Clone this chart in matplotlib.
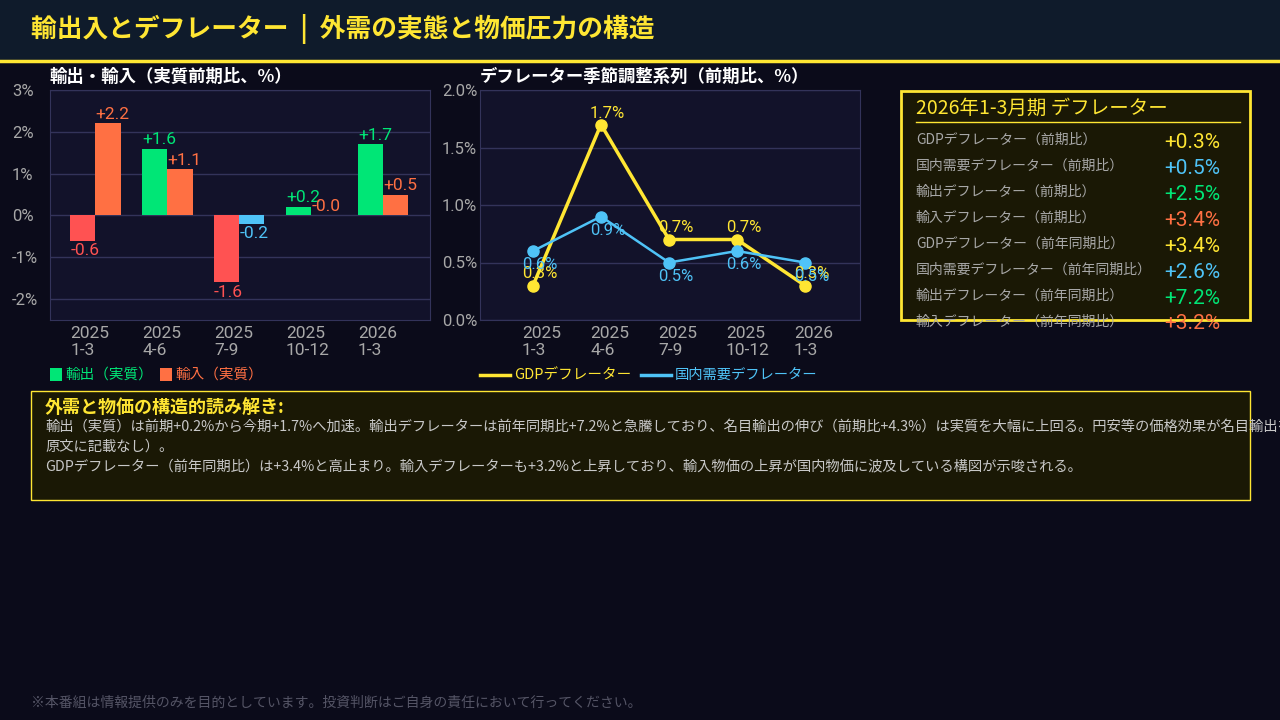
import matplotlib
matplotlib.use('Agg')
import matplotlib.pyplot as plt
from matplotlib.patches import Rectangle
from matplotlib.lines import Line2D
import numpy as np

plt.rcParams['font.family'] = ['Noto Sans CJK JP', 'DejaVu Sans']
NUM_FONT = ['Roboto', 'Noto Sans CJK JP', 'DejaVu Sans']

W, H = 1280, 720

# データ
quarters = ['2025\n1-3', '2025\n4-6', '2025\n7-9', '2025\n10-12', '2026\n1-3']
exports_real = [-0.6, 1.6, -1.6, 0.2, 1.7]
imports_real = [2.2, 1.1, -0.2, -0.0, 0.5]
gdp_deflator = [0.3, 1.7, 0.7, 0.7, 0.3]
domestic_deflator = [0.6, 0.9, 0.5, 0.6, 0.5]

box_labels = [
    'GDPデフレーター（前期比）',
    '国内需要デフレーター（前期比）',
    '輸出デフレーター（前期比）',
    '輸入デフレーター（前期比）',
    'GDPデフレーター（前年同期比）',
    '国内需要デフレーター（前年同期比）',
    '輸出デフレーター（前年同期比）',
    '輸入デフレーター（前年同期比）',
]
box_values = [0.3, 0.5, 2.5, 3.4, 3.4, 2.6, 7.2, 3.2]

# 色
BG = '#0b0b1a'
HEADER = '#0f1b2b'
YELLOW = '#ffe633'
GREEN = '#00e676'
RED = '#ff5252'
ORANGE = '#ff7043'
BLUE = '#4fc3f7'
GRAY = '#a8a8a8'
GRID = '#33335a'
AXBG = '#12122a'
BOXBG = '#1a1805'
box_colors = [YELLOW, BLUE, GREEN, ORANGE] * 2


def fx(x):
    return x / W


def fy(y):
    return 1 - y / H


def rect(x0, y0, x1, y1):
    return [fx(x0), fy(y1), (x1 - x0) / W, (y1 - y0) / H]


fig = plt.figure(figsize=(12.8, 7.2), dpi=100, facecolor=BG)

# ヘッダー
fig.add_artist(Rectangle((0, fy(60)), 1, 60 / H, transform=fig.transFigure,
                         facecolor=HEADER, edgecolor='none', zorder=0))
fig.add_artist(Line2D([0, 1], [fy(61), fy(61)], transform=fig.transFigure,
                      color=YELLOW, lw=2.5))
fig.text(fx(31), fy(29), '輸出入とデフレーター  |  外需の実態と物価圧力の構造',
         color=YELLOW, fontsize=18.5, fontweight='bold', va='center', ha='left')


def style_axes(ax):
    ax.set_facecolor(AXBG)
    for s in ax.spines.values():
        s.set_color(GRID)
    ax.tick_params(length=0, colors=GRAY, labelsize=12)
    ax.tick_params(axis='y', pad=27.5)
    ax.grid(axis='y', color=GRID, lw=1)
    ax.set_axisbelow(True)
    for t in ax.get_yticklabels():
        t.set_horizontalalignment('left')


# 左: 輸出・輸入
ax1 = fig.add_axes(rect(50, 90, 430, 320))
x = np.arange(len(quarters))
bw = 0.35
exp_colors = [GREEN if v >= 0 else RED for v in exports_real]
imp_colors = [ORANGE if v >= 0 else BLUE for v in imports_real]
ax1.bar(x - bw / 2, exports_real, bw, color=exp_colors, zorder=2)
ax1.bar(x + bw / 2, imports_real, bw, color=imp_colors, zorder=2)
for xs, vals, cols in [(x - bw, exports_real, exp_colors),
                       (x, imports_real, imp_colors)]:
    for xi, v, c in zip(xs, vals, cols):
        lab = f'+{v:.1f}' if v > 0 else f'{v:.1f}'
        if v >= 0:
            ax1.text(xi, v + 0.22, lab, color=c, fontsize=12.5, ha='left',
                     va='center', family=NUM_FONT)
        else:
            ax1.text(xi, v - 0.24, lab, color=c, fontsize=12.5, ha='left',
                     va='center', family=NUM_FONT)
ax1.set_xlim(-0.63, 4.65)
ax1.set_ylim(-2.5, 3)
ax1.set_yticks([-2, -1, 0, 1, 2, 3])
ax1.set_yticklabels([f'{v}%' for v in [-2, -1, 0, 1, 2, 3]], family=NUM_FONT)
ax1.set_xticks(x - bw)
ax1.set_xticklabels(quarters, ha='left', multialignment='left', family=NUM_FONT)
style_axes(ax1)
ax1.tick_params(axis='x', pad=4, labelsize=12.5)
fig.text(fx(50), fy(77), '輸出・輸入（実質前期比、%）', color='white',
         fontsize=12.5, fontweight='bold', va='center')

# 凡例（左）
fig.add_artist(Rectangle((fx(50), fy(381)), 12 / W, 13 / H, transform=fig.transFigure,
                         facecolor=GREEN, edgecolor='none'))
fig.text(fx(65), fy(375), '輸出（実質）', color=GREEN, fontsize=10.5, va='center')
fig.add_artist(Rectangle((fx(160), fy(381)), 12 / W, 13 / H, transform=fig.transFigure,
                         facecolor=ORANGE, edgecolor='none'))
fig.text(fx(175), fy(375), '輸入（実質）', color=ORANGE, fontsize=10.5, va='center')

# 中央: デフレーター
ax2 = fig.add_axes(rect(480, 90, 860, 320))
ax2.plot(x, gdp_deflator, color=YELLOW, lw=2.5, marker='o', ms=8, zorder=3)
ax2.plot(x, domestic_deflator, color=BLUE, lw=1.8, marker='o', ms=8, zorder=3)
off = 11 / 68
for xi, v in zip(x, gdp_deflator):
    ax2.text(xi - off, v + 0.1, f'{v:.1f}%', color=YELLOW, fontsize=12,
             ha='left', va='center', zorder=4, family=NUM_FONT)
for xi, v in zip(x, domestic_deflator):
    ax2.text(xi - off, v - 0.12, f'{v:.1f}%', color=BLUE, fontsize=12,
             ha='left', va='center', zorder=4, family=NUM_FONT)
ax2.set_xlim(-0.78, 4.81)
ax2.set_ylim(0, 2.0)
ax2.set_yticks([0, 0.5, 1.0, 1.5, 2.0])
ax2.set_yticklabels([f'{v:.1f}%' for v in [0, 0.5, 1.0, 1.5, 2.0]], family=NUM_FONT)
ax2.set_xticks(x - off)
ax2.set_xticklabels(quarters, ha='left', multialignment='left', family=NUM_FONT)
style_axes(ax2)
ax2.tick_params(axis='x', pad=4, labelsize=12.5)
fig.text(fx(480), fy(77), 'デフレーター季節調整系列（前期比、%）', color='white',
         fontsize=12.5, fontweight='bold', va='center')

# 凡例（中央）
fig.add_artist(Line2D([fx(480), fx(510)], [fy(375), fy(375)], transform=fig.transFigure,
                      color=YELLOW, lw=2.5))
fig.text(fx(514), fy(375), 'GDPデフレーター', color=YELLOW, fontsize=10.5, va='center')
fig.add_artist(Line2D([fx(641), fx(671)], [fy(375), fy(375)], transform=fig.transFigure,
                      color=BLUE, lw=2.5))
fig.text(fx(675), fy(375), '国内需要デフレーター', color=BLUE, fontsize=10.3, va='center')

# 右: サマリーボックス
fig.add_artist(Rectangle((fx(901), fy(320)), 349 / W, 229 / H, transform=fig.transFigure,
                         facecolor=BOXBG, edgecolor=YELLOW, lw=2, zorder=1))
fig.text(fx(916), fy(108), '2026年1-3月期 デフレーター', color=YELLOW,
         fontsize=14, va='center', zorder=2)
fig.add_artist(Line2D([fx(916), fx(1240)], [fy(122), fy(122)], transform=fig.transFigure,
                      color=YELLOW, lw=1, zorder=2))
for i, (lab, v, c) in enumerate(zip(box_labels, box_values, box_colors)):
    y = 140 + 26 * i
    fig.text(fx(916), fy(y), lab, color=GRAY, fontsize=10, va='center', zorder=2)
    fig.text(fx(1220), fy(y + 2), f'+{v:.1f}%', color=c, fontsize=15,
             va='center', ha='right', zorder=2, family=NUM_FONT)

# 下: 解説ボックス
fig.add_artist(Rectangle((fx(31), fy(500)), 1219 / W, 109 / H, transform=fig.transFigure,
                         facecolor=BOXBG, edgecolor=YELLOW, lw=1, zorder=1))
fig.text(fx(45), fy(408), '外需と物価の構造的読み解き:', color=YELLOW,
         fontsize=13, fontweight='bold', va='center', zorder=2)
body = [
    '輸出（実質）は前期+0.2%から今期+1.7%へ加速。輸出デフレーターは前年同期比+7.2%と急騰しており、'
    '名目輸出の伸び（前期比+4.3%）は実質を大幅に上回る。円安等の価格効果が名目輸出を押し上げている可能性（為替水準は',
    '原文に記載なし）。',
    'GDPデフレーター（前年同期比）は+3.4%と高止まり。輸入デフレーターも+3.2%と上昇しており、'
    '輸入物価の上昇が国内物価に波及している構図が示唆される。',
]
for i, line in enumerate(body):
    fig.text(fx(45), fy(427 + 19.5 * i), line, color='#c8c8c8', fontsize=10.3,
             va='center', zorder=2)

# フッター
fig.text(fx(31), fy(703), '※本番組は情報提供のみを目的としています。投資判断はご自身の責任において行ってください。',
         color='#555566', fontsize=10, va='center')

fig.savefig('out.png', dpi=100, facecolor=BG)
